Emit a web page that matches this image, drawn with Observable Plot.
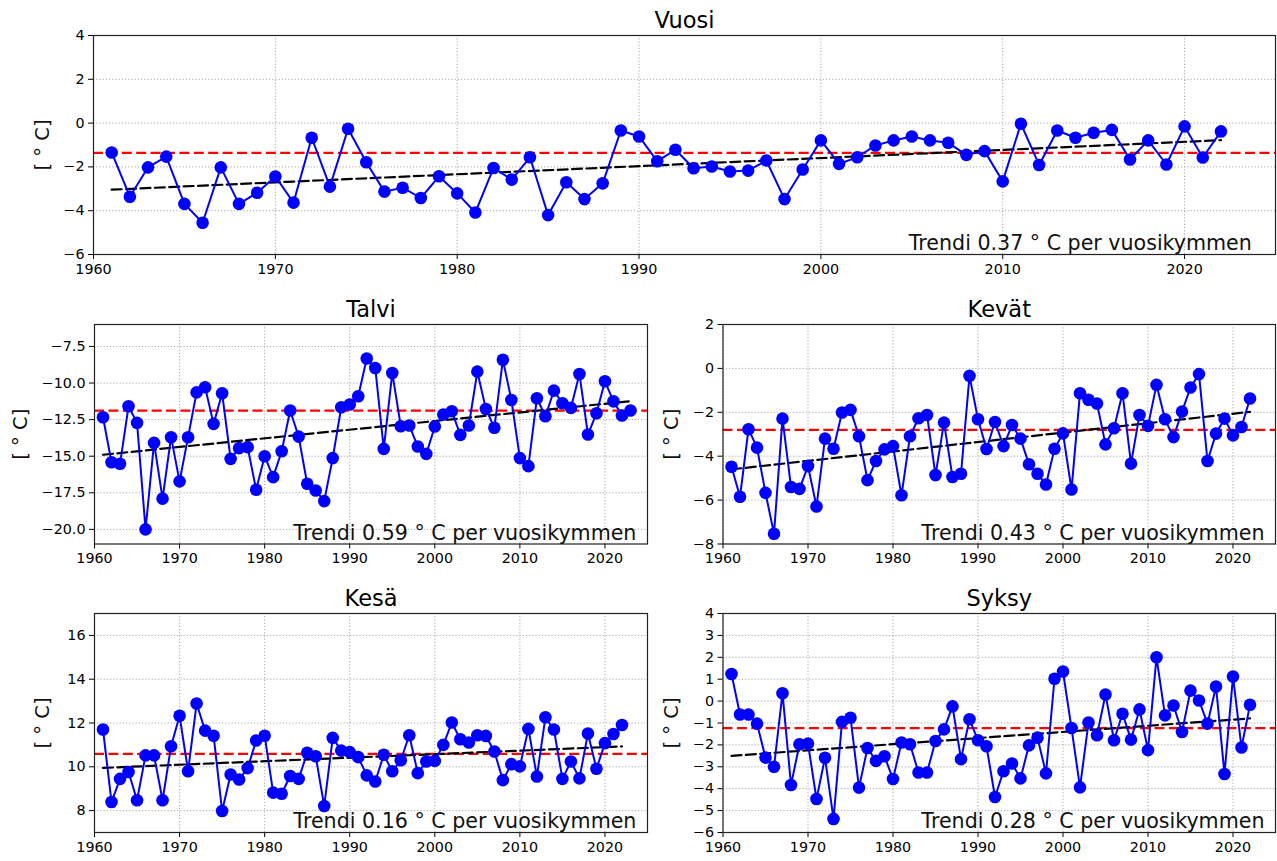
<!DOCTYPE html>
<html>
<head>
<meta charset="utf-8">
<script src="https://cdn.jsdelivr.net/npm/d3@7"></script>
<script src="https://cdn.jsdelivr.net/npm/@observablehq/plot@0.6"></script>
<style>
  html, body { margin: 0; padding: 0; background: #fff; }
  #wrap { position: relative; width: 1277px; height: 861px; background: #fff; overflow: hidden; }
  #wrap > svg, #wrap > figure { position: absolute; margin: 0; }
</style>
</head>
<body>
<div id="wrap"></div>
<script>
// ---------------- data ----------------
const startYear = 1961;
const xTickYears = [1960, 1970, 1980, 1990, 2000, 2010, 2020];

const vuosi = [-1.34, -3.36, -2.02, -1.53, -3.69, -4.55, -2.02, -3.69, -3.18, -2.44,
  -3.63, -0.67, -2.90, -0.26, -1.79, -3.13, -2.95, -3.42, -2.43, -3.21,
  -4.08, -2.05, -2.58, -1.56, -4.20, -2.70, -3.47, -2.75, -0.34, -0.61,
  -1.74, -1.22, -2.06, -1.98, -2.21, -2.17, -1.71, -3.47, -2.12, -0.79,
  -1.86, -1.56, -1.02, -0.79, -0.61, -0.79, -0.90, -1.45, -1.28, -2.66,
  -0.03, -1.91, -0.34, -0.67, -0.44, -0.31, -1.66, -0.79, -1.89, -0.15,
  -1.57, -0.38];

const talvi = [-12.34, -15.41, -15.52, -11.59, -12.72, -20.0, -14.09, -17.9, -13.7, -16.72,
  -13.7, -10.64, -10.29, -12.79, -10.7, -15.18, -14.45, -14.38, -17.29, -15.0,
  -16.43, -14.66, -11.88, -13.66, -16.88, -17.34, -18.07, -15.13, -11.66, -11.47,
  -10.9, -8.32, -8.97, -14.5, -9.31, -12.95, -12.9, -14.34, -14.84, -12.97,
  -12.15, -11.93, -13.54, -12.9, -9.22, -11.77, -13.06, -8.41, -11.16, -15.13,
  -15.68, -11.04, -12.27, -10.52, -11.38, -11.7, -9.38, -13.52, -12.07, -9.88,
  -11.25, -12.22, -11.88];

const kevat = [-4.48, -5.85, -2.77, -3.61, -5.67, -7.53, -2.29, -5.4, -5.49, -4.45,
  -6.29, -3.2, -3.66, -2.01, -1.89, -3.09, -5.09, -4.22, -3.69, -3.54,
  -5.78, -3.09, -2.27, -2.12, -4.86, -2.47, -4.95, -4.8, -0.34, -2.32,
  -3.67, -2.44, -3.54, -2.58, -3.2, -4.37, -4.8, -5.29, -3.66, -2.96,
  -5.52, -1.13, -1.43, -1.6, -3.46, -2.73, -1.13, -4.34, -2.12, -2.62,
  -0.75, -2.32, -3.13, -1.97, -0.87, -0.26, -4.22, -2.97, -2.29, -3.05,
  -2.67, -1.37];

const kesa = [11.70, 8.39, 9.45, 9.76, 8.47, 10.52, 10.52, 8.47, 10.94, 12.33,
  9.8, 12.89, 11.65, 11.42, 7.98, 9.65, 9.42, 9.94, 11.2, 11.42,
  8.82, 8.77, 9.58, 9.45, 10.64, 10.48, 8.21, 11.32, 10.74, 10.67,
  10.44, 9.61, 9.33, 10.55, 9.8, 10.3, 11.44, 9.71, 10.24, 10.27,
  11.0, 12.02, 11.26, 11.11, 11.44, 11.41, 10.7, 9.39, 10.12, 10.02,
  11.73, 9.56, 12.26, 11.7, 9.45, 10.24, 9.47, 11.52, 9.91, 11.08,
  11.5, 11.91];

const syksy = [1.24, -0.61, -0.61, -1.03, -2.58, -3.0, 0.36, -3.83, -1.97, -1.94,
  -4.47, -2.59, -5.38, -0.95, -0.76, -3.95, -2.14, -2.73, -2.52, -3.56,
  -1.89, -1.97, -3.26, -3.26, -1.82, -1.29, -0.24, -2.65, -0.83, -1.79,
  -2.06, -4.38, -3.2, -2.85, -3.53, -2.02, -1.67, -3.3, 1.02, 1.35,
  -1.23, -3.94, -0.98, -1.56, 0.3, -1.79, -0.58, -1.76, -0.38, -2.24,
  2.0, -0.65, -0.2, -1.41, 0.48, 0.03, -1.03, 0.67, -3.33, 1.12,
  -2.12, -0.17];

// long-term means (red dashed) and trend line end values (black dashed)
const means = { vuosi: -1.36, talvi: -11.88, kevat: -2.8, kesa: 10.59, syksy: -1.23 };
const trendStart = { vuosi: -3.04, talvi: -14.9, kevat: -4.6, kesa: 9.95, syksy: -2.5 };
const trendEnd   = { vuosi: -0.78, talvi: -11.24, kevat: -1.98, kesa: 10.93, syksy: -0.79 };
const trendRates = { vuosi: "0.37", talvi: "0.59", kevat: "0.43", kesa: "0.16", syksy: "0.28" };
const titles = { vuosi: "Vuosi", talvi: "Talvi", kevat: "Kevät", kesa: "Kesä", syksy: "Syksy" };

const yTicks = {
  vuosi: [-6, -4, -2, 0, 2, 4],
  talvi: [-20, -17.5, -15, -12.5, -10, -7.5],
  kevat: [-8, -6, -4, -2, 0, 2],
  kesa: [8, 10, 12, 14, 16],
  syksy: [-6, -5, -4, -3, -2, -1, 0, 1, 2, 3, 4]
};
const yDomains = {
  vuosi: [-6, 4], talvi: [-21, -6], kevat: [-8, 2], kesa: [7, 17], syksy: [-6, 4]
};
const series = { vuosi, talvi, kevat, kesa, syksy };

// ---------------- drawing ----------------
const FONT = "'DejaVu Sans', sans-serif";
const wrap = document.getElementById("wrap");

function panel(key, box) {
  const vals = series[key];
  const data = vals.map((v, i) => ({ year: startYear + i, v }));
  const lastYear = startYear + vals.length - 1;
  const trend = [{ year: startYear, v: trendStart[key] }, { year: lastYear, v: trendEnd[key] }];
  const pw = box.width - box.mL - box.mR;
  const ph = box.height - box.mT - box.mB;
  const fmt = key === "talvi" ? d3.format(".1f") : d3.format("d");
  const grid = { stroke: "#a8a8a8", strokeOpacity: 1, strokeWidth: 1, strokeDasharray: "1.2,2" };

  const svg = Plot.plot({
    width: box.width,
    height: box.height,
    marginLeft: box.mL,
    marginRight: box.mR,
    marginTop: box.mT,
    marginBottom: box.mB,
    style: { fontFamily: FONT, fontSize: "14px", color: "#000", background: "transparent", overflow: "visible" },
    x: { domain: [1960, 2025] },
    y: { domain: yDomains[key] },
    marks: [
      Plot.gridX(xTickYears, grid),
      Plot.gridY(yTicks[key], grid),
      Plot.axisX(xTickYears, { tickSize: 5, tickPadding: 4, tickFormat: d3.format("d"), label: null, fontSize: 14.3, stroke: "#000" }),
      Plot.axisY(yTicks[key], { tickSize: 5, tickPadding: 4, tickFormat: fmt, label: null, fontSize: 14.3, stroke: "#000" }),
      Plot.ruleY([means[key]], { stroke: "#ff0000", strokeWidth: 2.2, strokeDasharray: "10,4.4" }),
      Plot.line(trend, { x: "year", y: "v", stroke: "#000", strokeWidth: 2.2, strokeDasharray: "10,4.4" }),
      Plot.line(data, { x: "year", y: "v", stroke: "#0000ff", strokeWidth: 2 }),
      Plot.dot(data, { x: "year", y: "v", r: 6.3, fill: "#0000ff", stroke: "none" }),
      Plot.frame({ stroke: "#222", strokeWidth: 1.2 }),
      Plot.text([titles[key]], { frameAnchor: "top", dy: -8, lineAnchor: "bottom", fontSize: 22.5, fill: "#000" }),
      Plot.text([`Trendi ${trendRates[key]} ° C per vuosikymmen`], {
        frameAnchor: "bottom-right", dx: -0.02 * pw, dy: -0.02 * ph,
        textAnchor: "end", lineAnchor: "bottom", fontSize: 20.6, fill: "#111"
      }),
      Plot.text(["[ ° C]"], { frameAnchor: "left", dx: -box.labelOffset, rotate: -90, textAnchor: "middle", lineAnchor: "middle", fontSize: 19.5, fill: "#111" })
    ]
  });
  svg.style.left = box.left + "px";
  svg.style.top = box.top + "px";
  wrap.appendChild(svg);
}

panel("vuosi", { left: 0, top: 0, width: 1277, height: 290, mL: 93, mR: 2, mT: 35, mB: 36, labelOffset: 51 });
panel("talvi", { left: 0, top: 290, width: 660, height: 285, mL: 94, mR: 13, mT: 34, mB: 31.5, labelOffset: 74 });
panel("kevat", { left: 660, top: 290, width: 617, height: 285, mL: 62.5, mR: 2, mT: 34, mB: 31.5, labelOffset: 51 });
panel("kesa",  { left: 0, top: 580, width: 660, height: 281, mL: 94, mR: 13, mT: 33, mB: 29, labelOffset: 52 });
panel("syksy", { left: 660, top: 580, width: 617, height: 281, mL: 62.5, mR: 2, mT: 33, mB: 29, labelOffset: 51 });
</script>
</body>
</html>
